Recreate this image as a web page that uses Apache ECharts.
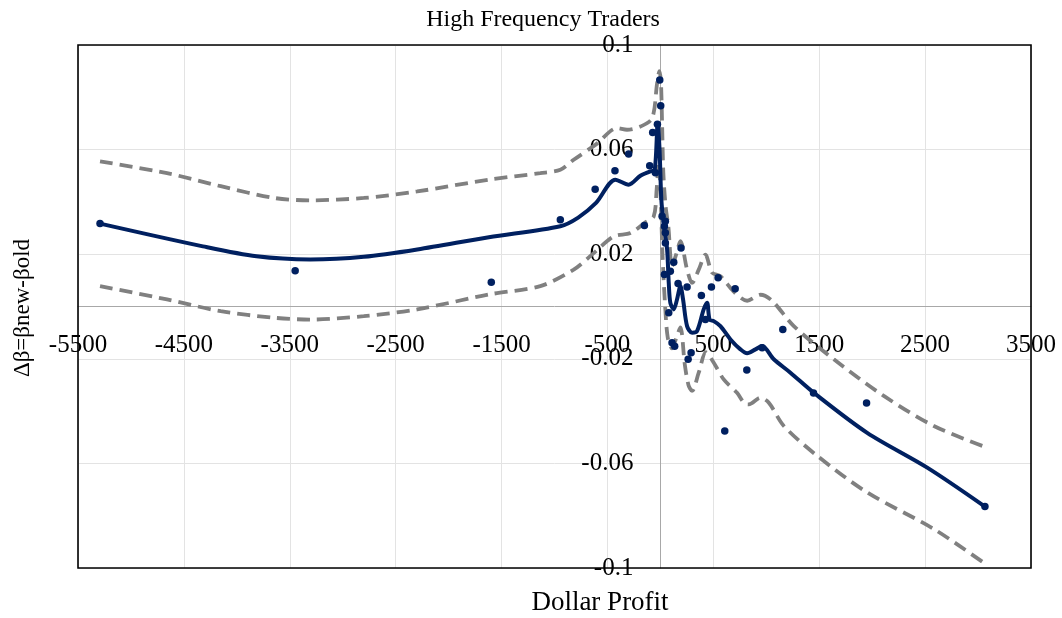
<!DOCTYPE html>
<html>
<head>
<meta charset="utf-8">
<script src="https://cdn.jsdelivr.net/npm/echarts@6/dist/echarts.min.js"></script>
<style>
html,body{margin:0;padding:0;background:#fff;}
#chart{width:1062px;height:618px;}
</style>
</head>
<body>
<div id="chart"></div>
<script>
// ---- data ----
const xTicks = [-5500, -4500, -3500, -2500, -1500, -500, 500, 1500, 2500, 3500];
const yTicks = [-0.1, -0.06, -0.02, 0.02, 0.06, 0.1];

const scatterX = [-5292, -3449, -1597, -945, -616, -429, -300, -151, -101, -73, -47, -28, -6, 3,
  16, 38, 47, 47, 47, 195, 126, 94, 38, 167, 252, 545, 482, 706, 387, 79, 425, 110, 135, 290, 262,
  816, 1156, 961, 1446, 1947, 608, 3065];
const scatterY = [0.0317, 0.0137, 0.0093, 0.0332, 0.0448, 0.0519, 0.0583, 0.031, 0.0538, 0.0665, 0.0511, 0.0697, 0.0866, 0.0768,
  0.0345, 0.0307, 0.0326, 0.0282, 0.0243, 0.0224, 0.0169, 0.0135, 0.0122, 0.0088, 0.0075, 0.011, 0.0075, 0.0068, 0.0042, -0.0024, -0.005, -0.0139, -0.0152, -0.0177, -0.0202,
  -0.0243, -0.0088, -0.0158, -0.0331, -0.0369, -0.0476, -0.0765];

const fitX = [-5292, -4320, -3814, -3307, -2801, -2296, -1620, -945, -776, -608, -425, -300, -189, -94, -55, -25, -8, 9, 30, 63, 79, 94, 126, 157, 189, 214, 252, 299, 346, 409, 441, 465, 504, 567, 662, 756, 819, 898, 961, 1071, 1228, 1449, 1953, 2520, 3065];
const fitY = [0.0317, 0.023, 0.0192, 0.018, 0.019, 0.0218, 0.0265, 0.0307, 0.034, 0.0396, 0.0485, 0.0466, 0.05, 0.0517, 0.052, 0.0701, 0.06, 0.041, 0.032, 0.022, 0.009, 0.0014, -0.0011, 0.0027, 0.0078, 0.0027, -0.0075, -0.01, -0.0094, -0.0011, 0.0014, -0.005, -0.0056, -0.0075, -0.0126, -0.0164, -0.0179, -0.0164, -0.0151, -0.0202, -0.0253, -0.033, -0.0483, -0.0616, -0.0765];

const upperX = [-5292, -4659, -4152, -3647, -3307, -2801, -2296, -1620, -1134, -945, -819, -608, -409, -315, -189, -78, -31, -9, 5, 16, 28, 50, 75, 110, 150, 189, 252, 299, 362, 425, 489, 567, 690, 819, 945, 1055, 1260, 1638, 2110, 2583, 3040];
const upperY = [0.0555, 0.051, 0.046, 0.0415, 0.0406, 0.0415, 0.044, 0.0485, 0.051, 0.0523, 0.0561, 0.062, 0.0682, 0.0676, 0.0688, 0.072, 0.0854, 0.09, 0.086, 0.07, 0.051, 0.038, 0.0306, 0.0154, 0.02, 0.025, 0.0141, 0.009, 0.0141, 0.0198, 0.0129, 0.0116, 0.0058, 0.0022, 0.0045, 0.0022, -0.0075, -0.0202, -0.0342, -0.0457, -0.0533];

const lowerX = [-5292, -4659, -4152, -3647, -3307, -2801, -2296, -1620, -1134, -819, -630, -441, -283, -148, -63, -35, -15, 0, 20, 45, 70, 110, 150, 189, 230, 265, 299, 362, 430, 504, 598, 724, 800, 835, 945, 1024, 1166, 1481, 1953, 2583, 3071];
const lowerY = [0.0078, 0.0027, -0.0018, -0.0043, -0.005, -0.0037, -0.0011, 0.0046, 0.0078, 0.0141, 0.0204, 0.0268, 0.0281, 0.032, 0.0345, 0.045, 0.055, 0.045, 0.02, 0.0, -0.012, -0.016, -0.012, -0.008, -0.022, -0.03, -0.0323, -0.0253, -0.0175, -0.0215, -0.0279, -0.033, -0.0372, -0.0374, -0.0349, -0.0368, -0.0457, -0.0571, -0.0711, -0.0851, -0.0985];

const zip = (a, b) => a.map((v, i) => [v, b[i]]);

const FONT = 'Liberation Serif';
const NAVY = '#002060';
const GRAY = '#808080';

// layout of the plotting frame
const G = {left: 78, right: 31, top: 45, bottom: 50, w: 1062, h: 618};
const plotW = G.w - G.left - G.right, plotH = G.h - G.top - G.bottom;
const xMin = xTicks[0], xMax = xTicks[xTicks.length - 1];
const yMin = yTicks[0], yMax = yTicks[yTicks.length - 1];
// axes cross at zero: shift each axis from the frame edge to the zero line
const xAxisOffset = -plotH * (0 - yMin) / (yMax - yMin);
const yAxisOffset = -plotW * (0 - xMin) / (xMax - xMin);

const chart = echarts.init(document.getElementById('chart'), null, {renderer: 'canvas'});
chart.setOption({
  animation: false,
  backgroundColor: '#ffffff',
  grid: {left: G.left, right: G.right, top: G.top, bottom: G.bottom, show: false, containLabel: false},
  xAxis: {
    type: 'value', position: 'bottom', offset: xAxisOffset,
    min: xMin, max: xMax, interval: xTicks[1] - xTicks[0],
    axisLine: {show: true, onZero: false, lineStyle: {color: '#a8a8a8', width: 1}},
    axisTick: {show: false},
    splitLine: {show: true, lineStyle: {color: '#e3e3e3', width: 1}},
    axisLabel: {color: '#000', fontFamily: FONT, fontSize: 25, margin: 26, formatter: v => String(v), showMinLabel: true, showMaxLabel: true}
  },
  yAxis: {
    type: 'value', position: 'left', offset: yAxisOffset,
    min: yMin, max: yMax, interval: +(yTicks[1] - yTicks[0]).toFixed(4),
    axisLine: {show: true, onZero: false, lineStyle: {color: '#a8a8a8', width: 1}},
    axisTick: {show: false},
    splitLine: {show: true, lineStyle: {color: '#e3e3e3', width: 1}},
    axisLabel: {color: '#000', fontFamily: FONT, fontSize: 25, margin: 27, formatter: v => String(+(+v).toFixed(2)), showMinLabel: true, showMaxLabel: true}
  },
  graphic: [
    {type: 'rect', z: 100, silent: true, shape: {x: G.left, y: G.top, width: plotW, height: plotH},
     style: {fill: null, stroke: '#000', lineWidth: 1.6}},
    {type: 'text', x: 543, y: 20, style: {text: 'High Frequency Traders', font: '24px "Liberation Serif"', fill: '#000', align: 'center', verticalAlign: 'middle'}},
    {type: 'text', x: 600, y: 603, style: {text: 'Dollar Profit', font: '27px "Liberation Serif"', fill: '#000', align: 'center', verticalAlign: 'middle'}},
    {type: 'text', x: 23, y: 308, rotation: Math.PI / 2, style: {text: 'Δβ=βnew-βold', font: '23px "Liberation Serif"', fill: '#000', align: 'center', verticalAlign: 'middle'}}
  ],
  series: [
    {type: 'line', data: zip(upperX, upperY), smooth: 0.3, showSymbol: false, z: 2,
     lineStyle: {color: GRAY, width: 3.8, type: [13, 7]}},
    {type: 'line', data: zip(lowerX, lowerY), smooth: 0.3, showSymbol: false, z: 2,
     lineStyle: {color: GRAY, width: 3.8, type: [13, 7]}},
    {type: 'line', data: zip(fitX, fitY), smooth: 0.3, showSymbol: false, z: 3,
     lineStyle: {color: NAVY, width: 4}},
    {type: 'scatter', data: zip(scatterX, scatterY), symbolSize: 7.5, z: 4,
     itemStyle: {color: NAVY, opacity: 1}}
  ]
});
</script>
</body>
</html>
